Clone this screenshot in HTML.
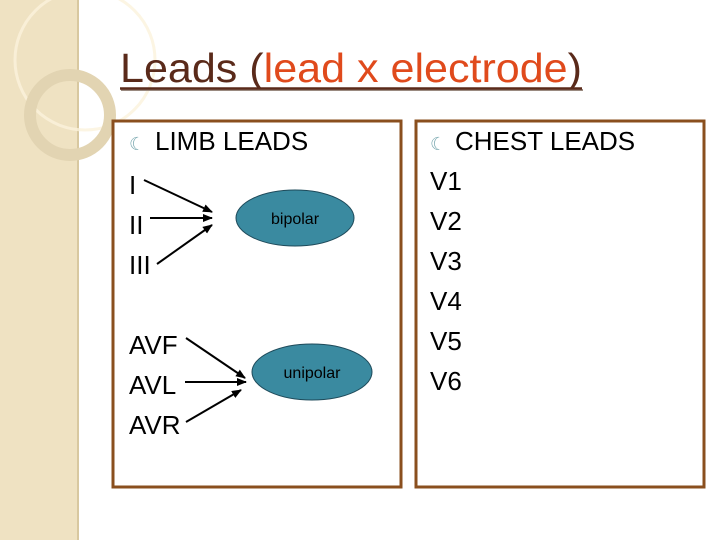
<!DOCTYPE html>
<html><head><style>
html,body{margin:0;padding:0;background:#fff}
svg{display:block}
text{font-family:"Liberation Sans",sans-serif}
</style></head><body>
<svg width="720" height="540" viewBox="0 0 720 540" xmlns="http://www.w3.org/2000/svg">
<defs>
<marker id="ah" markerWidth="10" markerHeight="8" refX="9" refY="4" orient="auto" markerUnits="userSpaceOnUse">
<path d="M0,0 L10,4 L0,8 z" fill="#000"/></marker>
</defs>
<rect x="0" y="0" width="78" height="540" fill="#efe2c2"/>
<line x1="78" y1="0" x2="78" y2="540" stroke="#d8c8a0" stroke-width="2"/>
<circle cx="85" cy="60" r="70" fill="none" stroke="#fbf2dc" stroke-width="3" opacity="0.8"/>
<circle cx="70" cy="115" r="40" fill="none" stroke="#e2d4b2" stroke-width="12"/>
<text x="120" y="82" font-size="41" fill="#5a2a1a" textLength="462" lengthAdjust="spacingAndGlyphs">Leads (<tspan fill="#e04a1c">lead x electrode</tspan>)</text>
<line x1="121" y1="90" x2="583" y2="90" stroke="#9a8a80" stroke-width="2"/>
<line x1="120" y1="88.5" x2="582" y2="88.5" stroke="#5a2a1a" stroke-width="2.5"/>
<rect x="113" y="121" width="288" height="366" fill="#fff" stroke="#8a4f1e" stroke-width="3"/>
<rect x="416" y="121" width="288" height="366" fill="#fff" stroke="#8a4f1e" stroke-width="3"/>
<g font-size="26" fill="#000">
<text x="129" y="150"><tspan font-size="18" fill="#7aa8b0">&#x263E;</tspan><tspan x="155">LIMB LEADS</tspan></text>
<text x="129" y="194">I</text>
<text x="129" y="234">II</text>
<text x="129" y="274">III</text>
<text x="129" y="354">AVF</text>
<text x="129" y="394">AVL</text>
<text x="129" y="434">AVR</text>
<text x="430" y="150"><tspan font-size="18" fill="#7aa8b0">&#x263E;</tspan><tspan x="455">CHEST LEADS</tspan></text>
<text x="430" y="190">V1</text>
<text x="430" y="230">V2</text>
<text x="430" y="270">V3</text>
<text x="430" y="310">V4</text>
<text x="430" y="350">V5</text>
<text x="430" y="390">V6</text>
</g>
<g stroke="#000" stroke-width="2" marker-end="url(#ah)">
<line x1="144" y1="180" x2="212" y2="212"/>
<line x1="150" y1="218" x2="212" y2="218"/>
<line x1="157" y1="264" x2="212" y2="225"/>
<line x1="186" y1="338" x2="245" y2="378"/>
<line x1="185" y1="382" x2="246" y2="382"/>
<line x1="186" y1="422" x2="241" y2="390"/>
</g>
<ellipse cx="295" cy="218" rx="59" ry="28" fill="#3a8aa0" stroke="#1e4a5a" stroke-width="1"/>
<text x="295" y="224" font-size="16" text-anchor="middle" fill="#000">bipolar</text>
<ellipse cx="312" cy="372" rx="60" ry="28" fill="#3a8aa0" stroke="#1e4a5a" stroke-width="1"/>
<text x="312" y="378" font-size="16" text-anchor="middle" fill="#000">unipolar</text>
</svg>
</body></html>
